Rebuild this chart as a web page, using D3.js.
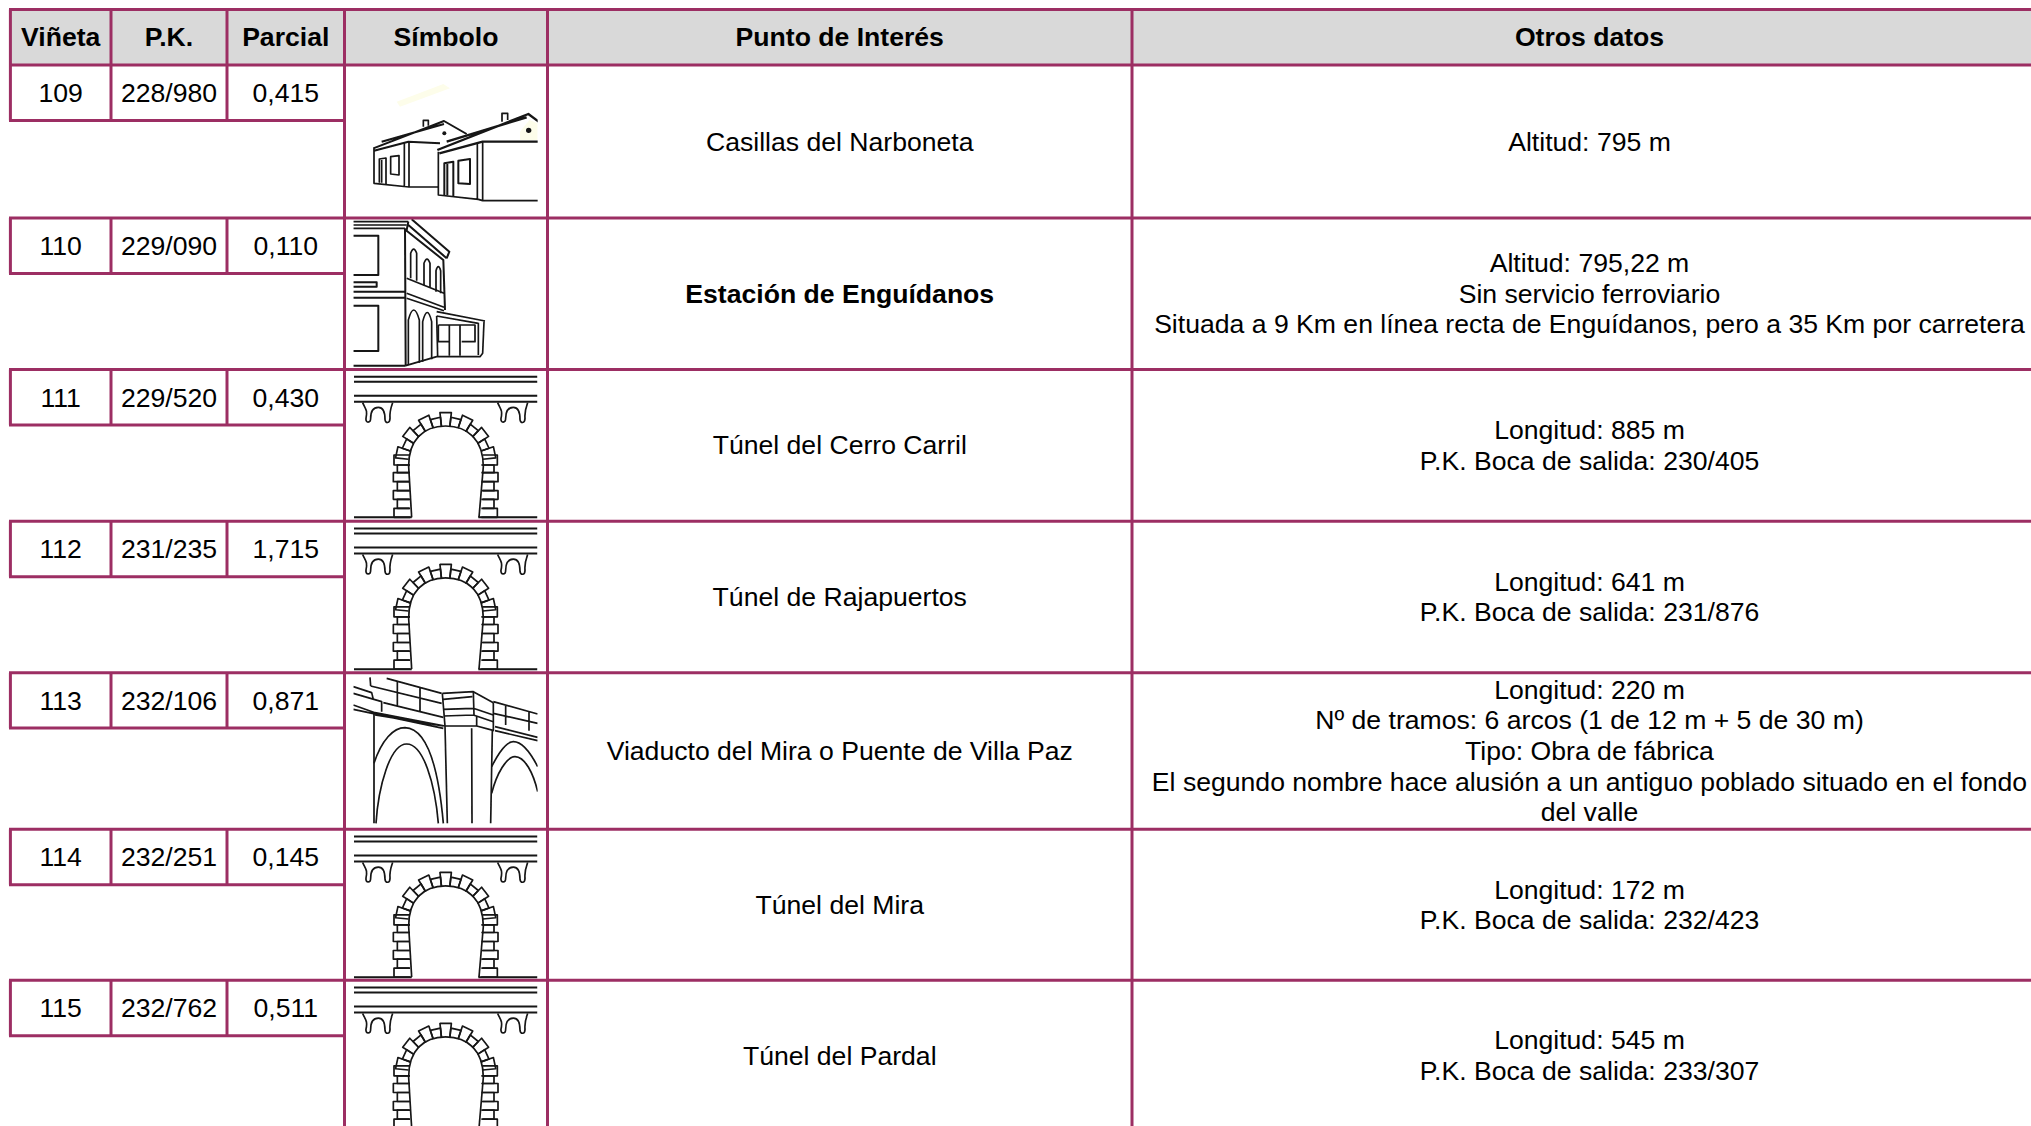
<!DOCTYPE html>
<html>
<head>
<meta charset="utf-8">
<script src="https://cdn.jsdelivr.net/npm/d3@7"></script>
<style>
body{margin:0;background:#fff;overflow:hidden}
text{font-family:"Liberation Sans",Arial,sans-serif;font-size:26.6px;fill:#000}
</style>
</head>
<body>
<svg id="tabla" width="2031" height="1126"></svg>
<script>
// datos de la tabla
const cabeceras=["Viñeta","P.K.","Parcial","Símbolo","Punto de Interés","Otros datos"];
const vinetas=["109","110","111","112","113","114","115"];
const pks=["228/980","229/090","229/520","231/235","232/106","232/251","232/762"];
const parciales=["0,415","0,110","0,430","1,715","0,871","0,145","0,511"];
const simbolos=["casillas","estacion","tunel","tunel","viaducto","tunel","tunel"];
const puntos=["Casillas del Narboneta","Estación de Enguídanos","Túnel del Cerro Carril","Túnel de Rajapuertos","Viaducto del Mira o Puente de Villa Paz","Túnel del Mira","Túnel del Pardal"];
const destacados=["Estación de Enguídanos"];
const otros=[
  ["Altitud: 795 m"],
  ["Altitud: 795,22 m","Sin servicio ferroviario","Situada a 9 Km en línea recta de Enguídanos, pero a 35 Km por carretera"],
  ["Longitud: 885 m","P.K. Boca de salida: 230/405"],
  ["Longitud: 641 m","P.K. Boca de salida: 231/876"],
  ["Longitud: 220 m","Nº de tramos: 6 arcos (1 de 12 m + 5 de 30 m)","Tipo: Obra de fábrica","El segundo nombre hace alusión a un antiguo poblado situado en el fondo","del valle"],
  ["Longitud: 172 m","P.K. Boca de salida: 232/423"],
  ["Longitud: 545 m","P.K. Boca de salida: 233/307"]
];

// geometria de la rejilla, medida sobre la imagen
const bordesCol=[10.4,111,227,344.5,547.5,1132,2047];
const bordesFila=[65,218,369.5,521.3,672.7,829.3,980.3,1131];
const COLOR="#9c2e63", GRIS="#d9d9d9", TOPE=9.5, ALTO_CELDA=55.4, INTERLINEA=30.6;

const xIni=d3.scaleOrdinal(cabeceras,bordesCol.slice(0,-1));
const xFin=d3.scaleOrdinal(cabeceras,bordesCol.slice(1));
const yIni=d3.scaleOrdinal(vinetas,bordesFila.slice(0,-1));
const yFin=d3.scaleOrdinal(vinetas,bordesFila.slice(1));
const xMedio=c=>(xIni(c)+xFin(c))/2;

const svg=d3.select("#tabla");
const defs=svg.append("defs");
defs.append("filter").attr("id","suave").attr("x","-5%").attr("y","-5%").attr("width","110%").attr("height","110%")
  .append("feGaussianBlur").attr("stdDeviation",1.3);

// fondo de la cabecera
svg.append("rect").attr("x",bordesCol[0]).attr("y",TOPE)
  .attr("width",bordesCol[6]-bordesCol[0]).attr("height",bordesFila[0]-TOPE).attr("fill",GRIS);

svg.selectAll("text.cab").data(cabeceras).enter().append("text")
  .attr("class","cab").attr("x",xMedio).attr("y",46)
  .attr("text-anchor","middle").style("font-weight","bold")
  .text(d=>d);

// simbolos (dibujados en coordenadas 3x)
function trazo(g,d,ancho){
  g.append("path").attr("d",d).attr("fill","none").attr("stroke","#141414")
    .attr("stroke-width",ancho||5).attr("stroke-linejoin","round");
}
function tunel(g){
  ["M42 50H592","M42 65H592","M42 107H592","M42 125H592","M42 472H215","M415 472H592"].forEach(d=>trazo(g,d,6));
  const mensula="C75 145 84 150 78 175C76 190 92 190 92 175C92 155 100 142 115 142C130 142 135 160 135 178C136 192 150 190 150 175C148 155 152 145 158 128";
  trazo(g,"M68 128"+mensula);
  g.append("g").attr("transform","translate(405,0)").call(s=>trazo(s,"M68 128"+mensula));
  trazo(g,"M215 472L206 320C205 240 250 198 317 198C384 198 430 240 430 320L417 472");
  // dovelas
  const cx=317,cy=308,n=13;
  d3.range(n).forEach(k=>{
    const a0=Math.PI*(1.03+k*0.94/n), a1=a0+Math.PI*0.94/n;
    const re=k%2==0?151:137, p=(a,rx,ry)=>(cx+rx*Math.cos(a))+" "+(cy+ry*Math.sin(a));
    trazo(g,"M"+p(a0,112,110)+"L"+p(a0,re,re)+"L"+p(a1,re,re)+"L"+p(a1,112,110));
  });
  // jambas
  [[285,315,162],[315,338,172],[338,365,160],[365,392,172],[392,418,160],[418,445,172],[445,472,162]].forEach(s=>{
    trazo(g,"M208 "+s[0]+"H"+s[2]+"V"+s[1]+"H210");
    trazo(g,"M428 "+s[0]+"H"+(634-s[2])+"V"+s[1]+"H424");
  });
}
function casillas(g){
  g.append("path").attr("d","M170 125L310 72L330 85L180 140Z").attr("fill","#fdfdea");
  g.append("path").attr("d","M100 262L312 180L385 222L300 245L200 243L105 272Z").attr("fill","#fff");
  trazo(g,"M100 265L312 183L380 222M125 245L312 192M102 272L205 245L300 250",6);
  trazo(g,"M250 200V181H265V197");
  trazo(g,"M102 265V370L207 381H295M193 248V378M207 245V380");
  trazo(g,"M118 368V297L138 294V372M125 368V300M152 342V290L177 287V345Z");
  g.append("circle").attr("cx",313).attr("cy",220).attr("r",6).attr("fill","#141414");
  g.append("path").attr("d","M292 268L565 160L600 185V250H428L298 280Z").attr("fill","#fff");
  g.append("path").attr("d","M540 215L568 180L593 190V240H540Z").attr("fill","#fdfdea");
  trazo(g,"M292 270L565 162L600 188M320 245L560 172M298 280L428 245H600",7);
  trazo(g,"M486 185V160H503V180");
  trazo(g,"M295 275V405L415 418L428 422H600M412 250V418M428 245V422");
  trazo(g,"M313 405V310L340 305V408M322 406V312M355 370V302L390 297V372Z",6);
  g.append("circle").attr("cx",566).attr("cy",211).attr("r",8).attr("fill","#141414");
}
function estacion(g){
  trazo(g,"M40 35H205M40 55H195M40 45H200");
  trazo(g,"M40 77H115V195H40M40 217H110V230H40M40 245H195M40 263H195M40 287H115V423H40M40 467H197",6);
  trazo(g,"M195 55L197 467M205 35L200 60M215 28L328 125L320 145M205 45L320 145M197 60L310 150L315 300",6);
  trazo(g,"M212 205V130Q221 105 230 130V212M252 225V160Q261 135 270 160V232M288 245V182Q295 158 302 182V250");
  trazo(g,"M200 205L312 250M200 250L312 292M200 265L312 302");
  trazo(g,"M205 465V330Q221 270 238 330V458M248 455V335Q262 280 275 335V448");
  trazo(g,"M197 467L290 440H420L428 430L432 335M290 305L435 333M290 318L415 340M290 318L293 440M415 338V435");
  trazo(g,"M295 345H405V395H365M295 345V395H330M328 345V437M360 345V437");
}
function viaducto(g){
  trazo(g,"M90 52L92 78M140 55L305 100M92 78L305 130M130 128L310 172M172 62V140M240 80V155");
  trazo(g,"M40 80L95 98L100 118M40 100L125 125V155M40 135L105 158L315 198M40 148L310 205M105 165L310 198");
  trazo(g,"M307 100L400 95L460 128M310 118L397 110M310 148L400 145L460 165M312 168L400 165L460 185M315 198H410L462 212M410 170V198M307 100L315 198M400 95L402 165");
  trazo(g,"M460 125L593 162M460 160L593 190M497 138V195M567 155V212M460 128V212M465 200L593 232M465 212L593 242");
  trazo(g,"M102 160V490M315 198L322 490M395 205L396 490M457 212L452 490");
  trazo(g,"M102 310C125 240 160 203 195 203C260 205 295 320 310 490");
  trazo(g,"M108 490C115 380 150 252 200 252C250 252 285 370 295 490");
  trazo(g,"M455 320C480 270 500 245 520 245C550 245 575 285 593 320");
  trazo(g,"M455 400C470 340 500 290 525 290C555 290 580 340 593 395");
}
const dibujos={casillas,estacion,tunel,viaducto};
const origenY={casillas:-5,estacion:-8,tunel:-9.5,viaducto:-12.7};
const corteX={casillas:[42,593],estacion:[40,593],tunel:[42,593],viaducto:[40,593]};

vinetas.forEach((v,i)=>{
  const tipo=simbolos[i], top=yIni(v);
  defs.append("clipPath").attr("id","corte"+v).append("rect")
    .attr("x",corteX[tipo][0]).attr("y",8-origenY[tipo]*3-12)
    .attr("width",corteX[tipo][1]-corteX[tipo][0]).attr("height",(yFin(v)-top)*3+6);
  const g=svg.append("g")
    .attr("transform","translate("+xIni("Símbolo")+","+(top+origenY[tipo])+") scale("+(1/3)+") translate(-13.5,0)");
  dibujos[tipo](g.append("g").attr("clip-path","url(#corte"+v+")").attr("filter","url(#suave)"));
});

// celdas de las tres primeras columnas y textos
const filas=d3.zip(vinetas,pks,parciales,puntos,otros);
const celdas=svg.selectAll("g.fila").data(filas).enter().append("g").attr("class","fila");
cabeceras.slice(0,3).forEach((c,j)=>{
  celdas.append("text").attr("x",xMedio(c)).attr("y",d=>yIni(d[0])+37)
    .attr("text-anchor","middle").text(d=>d[j]);
});
celdas.append("text").attr("x",xMedio("Punto de Interés")).attr("y",d=>(yIni(d[0])+yFin(d[0]))/2+9)
  .attr("text-anchor","middle")
  .style("font-weight",d=>destacados.includes(d[3])?"bold":"normal")
  .text(d=>d[3]);
celdas.each(function(d){
  const medio=(yIni(d[0])+yFin(d[0]))/2+9;
  d3.select(this).selectAll("text.otro").data(d[4]).enter().append("text")
    .attr("class","otro").attr("x",xMedio("Otros datos"))
    .attr("y",(t,k)=>medio+(k-(d[4].length-1)/2)*INTERLINEA)
    .attr("text-anchor","middle").text(t=>t);
});

// rejilla
const linea=(x1,y1,x2,y2)=>svg.append("line").attr("x1",x1).attr("y1",y1).attr("x2",x2).attr("y2",y2)
  .attr("stroke",COLOR).attr("stroke-width",3);
linea(9,TOPE,2047,TOPE);
bordesFila.forEach(y=>linea(9,y,2047,y));
[xIni("Símbolo"),xIni("Punto de Interés"),xIni("Otros datos")].forEach(x=>linea(x,TOPE,x,1126));
[bordesCol[0],xIni("P.K."),xIni("Parcial")].forEach(x=>{
  linea(x,TOPE,x,bordesFila[0]);
  vinetas.forEach(v=>linea(x,yIni(v),x,yIni(v)+ALTO_CELDA));
});
vinetas.forEach(v=>linea(9,yIni(v)+ALTO_CELDA,xIni("Símbolo"),yIni(v)+ALTO_CELDA));
</script>
</body>
</html>
